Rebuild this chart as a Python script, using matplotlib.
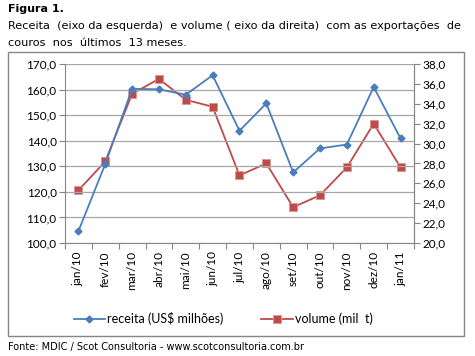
import matplotlib
matplotlib.use("Agg")
import matplotlib.pyplot as plt
from matplotlib.patches import Rectangle
from matplotlib.ticker import FuncFormatter

meses = ["jan/10", "fev/10", "mar/10", "abr/10", "mai/10", "jun/10", "jul/10",
         "ago/10", "set/10", "out/10", "nov/10", "dez/10", "jan/11"]
receita = [104.6, 130.9, 160.3, 160.1, 158.0, 165.6, 143.9,
           154.6, 127.6, 137.0, 138.5, 161.0, 140.9]
volume = [25.3, 28.2, 35.0, 36.5, 34.4, 33.7, 26.8,
          28.0, 23.6, 24.8, 27.6, 32.0, 27.6]

azul = "#4A7EBB"
vermelho = "#BE4B48"
cinza = "#868686"

plt.rcParams['font.family'] = ['Lato', 'DejaVu Sans']

fig = plt.figure(figsize=(4.75, 3.56), dpi=100)
ax = fig.add_axes([0.1368, 0.3174, 0.7347, 0.5028])
ax2 = ax.twinx()

x = list(range(len(meses)))
l1, = ax.plot(x, receita, color=azul, lw=1.3, marker="D", ms=3.5, label="receita (US$ milhões)")
l2, = ax2.plot(x, volume, color=vermelho, lw=1.3, marker="s", ms=5.5,
               markeredgecolor="#D99694", markeredgewidth=0.6, label="volume (mil  t)")

ax.set_zorder(ax2.get_zorder() + 1)
ax.patch.set_visible(False)

ax.set_xlim(-0.5, 12.5)
ax.set_ylim(100, 170)
ax2.set_ylim(20, 38)
ax.set_yticks(range(100, 171, 10))
ax2.set_yticks(range(20, 39, 2))
fmt = FuncFormatter(lambda v, p: f"{v:.1f}".replace(".", ","))
ax.yaxis.set_major_formatter(fmt)
ax2.yaxis.set_major_formatter(fmt)

ax.set_xticks([i - 0.5 for i in range(14)])
ax.set_xticklabels([])
ax.set_xticks(x, minor=True)
ax.set_xticklabels(meses, minor=True, rotation=90, fontsize=8.5)
ax.tick_params(axis="x", which="minor", length=0, pad=6)
ax.tick_params(axis="x", which="major", length=4, color=cinza, direction="out")
ax.tick_params(axis="y", length=4, color=cinza, labelsize=8.5, pad=2)
ax2.tick_params(axis="y", length=4, color=cinza, labelsize=8.5, pad=2)

ax.yaxis.grid(True, color="#A6A6A6", lw=0.9)
ax.set_axisbelow(True)
for a in (ax, ax2):
    a.spines["top"].set_visible(False)
    for s in ("left", "right", "bottom"):
        a.spines[s].set_color(cinza)
ax2.spines["left"].set_visible(False)
ax2.spines["bottom"].set_visible(False)

fig.legend([l1, l2], [l1.get_label(), l2.get_label()], loc="center",
           bbox_to_anchor=(0.47, 0.105), ncol=2, frameon=False, fontsize=9,
           handlelength=2.5, columnspacing=3, handletextpad=0.2)

fig.patches.append(Rectangle((8 / 475, 1 - 336 / 356), 456 / 475, 284 / 356,
                             transform=fig.transFigure, fill=False,
                             edgecolor="#868686", lw=1))

fig.text(8 / 475, 1 - 9 / 356, "Figura 1.", fontsize=8, fontweight="bold",
         family="DejaVu Sans", va="center")
fig.text(8 / 475, 1 - 26 / 356,
         "Receita  (eixo da esquerda)  e volume ( eixo da direita)  com as exportações  de",
         fontsize=8.1, family="DejaVu Sans", va="center")
fig.text(8 / 475, 1 - 43 / 356, "couros  nos  últimos  13 meses.", fontsize=8.1,
         family="DejaVu Sans", va="center")
fig.text(8 / 475, 1 - 347 / 356,
         "Fonte: MDIC / Scot Consultoria - www.scotconsultoria.com.br",
         fontsize=7, family="DejaVu Sans", va="center")

fig.savefig("out.png", dpi=100)
